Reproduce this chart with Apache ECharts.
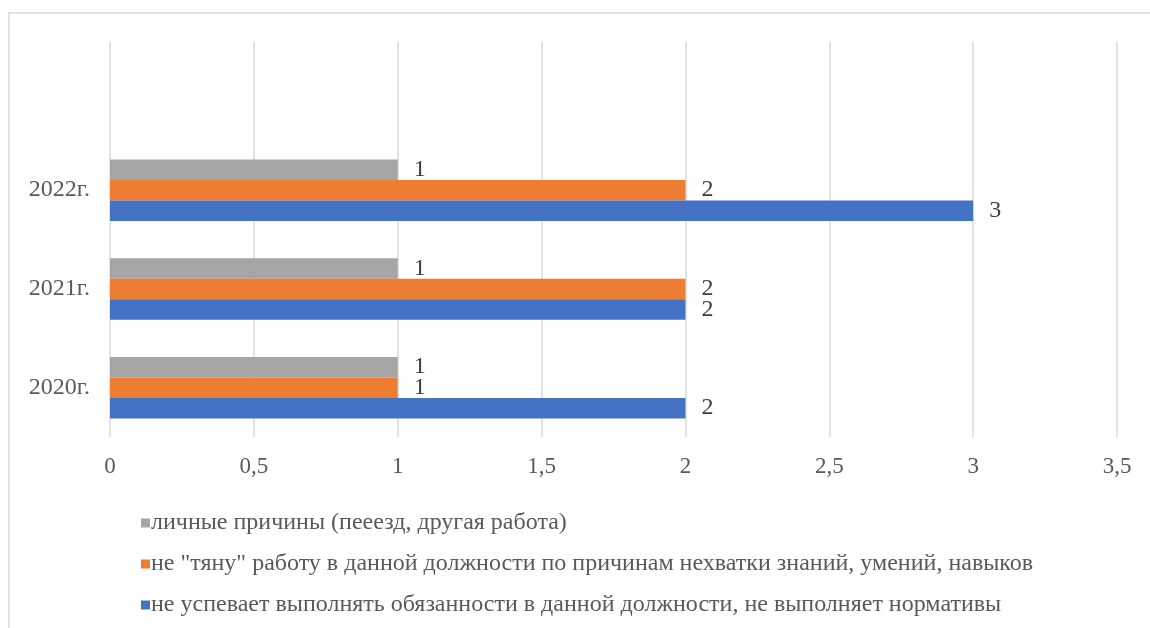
<!DOCTYPE html>
<html>
<head>
<meta charset="utf-8">
<script src="https://cdn.jsdelivr.net/npm/echarts@6/dist/echarts.min.js"></script>
<style>html,body{margin:0;padding:0;background:#fff}#c{width:1150px;height:628px}</style>
</head>
<body>
<div id="c"></div>
<script>
const categories = ['2020г.', '2021г.', '2022г.', ''];
const grayName = 'личные причины (пееезд, другая работа)';
const orangeName = 'не "тяну" работу в данной должности по причинам нехватки знаний, умений, навыков';
const blueName = 'не успевает выполнять обязанности в данной должности, не выполняет нормативы';
const grayValues = [1, 1, 1, null];
const orangeValues = [1, 2, 2, null];
const blueValues = [2, 2, 3, null];
const xTicks = { min: 0, max: 3.5, interval: 0.5 };

const FONT = "'Liberation Serif', 'Times New Roman', serif";
const seriesDefs = [
  { name: grayName, data: grayValues, color: '#a5a5a5' },
  { name: orangeName, data: orangeValues, color: '#ed7d31' },
  { name: blueName, data: blueValues, color: '#4472c4' }
];

const chart = echarts.init(document.getElementById('c'), null, { renderer: 'canvas' });
chart.setOption({
  animation: false,
  backgroundColor: '#fff',
  graphic: [{
    type: 'rect',
    shape: { x: 9, y: 13, width: 1300, height: 800 },
    style: { fill: 'none', stroke: '#d9d9d9', lineWidth: 1.5 },
    silent: true
  }],
  grid: { left: 110, right: 33, top: 42, bottom: 191, containLabel: false },
  legend: {
    orient: 'vertical',
    left: 136,
    top: 506,
    itemGap: 17,
    itemWidth: 9,
    itemHeight: 9,
    icon: 'rect',
    data: [grayName, orangeName, blueName],
    textStyle: { fontFamily: FONT, fontSize: 24, color: '#595959', padding: [0, 0, 0, -4] }
  },
  xAxis: {
    type: 'value',
    min: xTicks.min, max: xTicks.max, interval: xTicks.interval,
    axisLine: { show: false },
    axisTick: { show: false },
    splitLine: { show: true, lineStyle: { color: '#d9d9d9', width: 1.5 } },
    axisLabel: {
      margin: 18,
      fontFamily: FONT, fontSize: 23, color: '#595959',
      formatter: v => String(v).replace('.', ',')
    }
  },
  yAxis: {
    type: 'category',
    data: categories,
    axisLine: { show: false },
    axisTick: { show: false },
    splitLine: { show: false },
    axisLabel: { margin: 20, fontFamily: FONT, fontSize: 24, color: '#595959' }
  },
  series: seriesDefs.map(s => ({
    name: s.name,
    type: 'bar',
    data: s.data,
    barWidth: 20.5,
    barGap: '0%',
    itemStyle: { color: s.color },
    label: {
      show: true,
      position: 'right',
      distance: 16,
      fontFamily: FONT,
      fontSize: 24,
      color: '#404040'
    }
  }))
});
</script>
</body>
</html>
